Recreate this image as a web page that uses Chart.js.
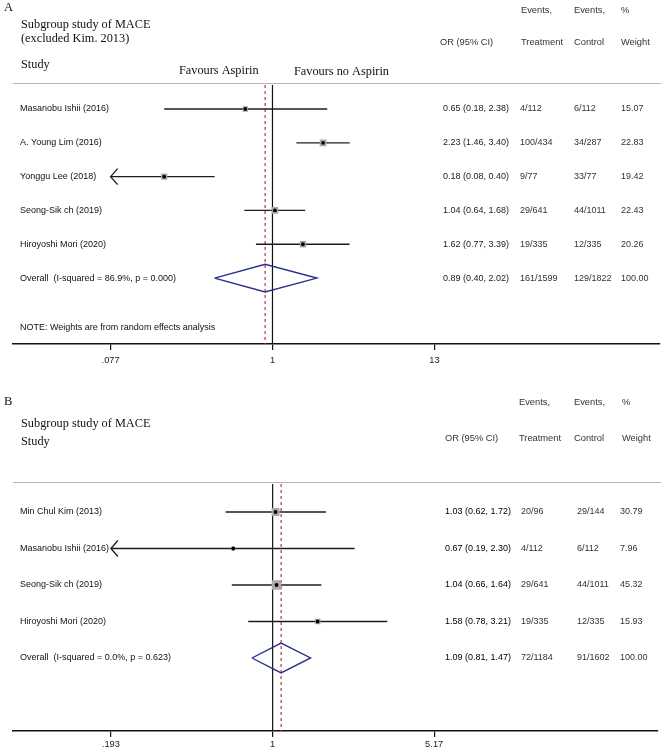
<!DOCTYPE html>
<html>
<head>
<meta charset="utf-8">
<script src="https://cdn.jsdelivr.net/npm/chart.js@4.4.1/dist/chart.umd.min.js"></script>
<style>
  html, body { margin: 0; padding: 0; background: #fff; }
  #wrap { position: relative; width: 664px; height: 749px; overflow: hidden; }
  canvas { position: absolute; left: 0; }
  #chartA { top: 0; }
  #chartB { top: 385px; }
</style>
</head>
<body>
<div id="wrap">
  <canvas id="chartA" width="664" height="374"></canvas>
  <canvas id="chartB" width="664" height="364"></canvas>
</div>
<script>
// panel A: excluded Kim 2013
const studiesA = ['Masanobu Ishii (2016)', 'A. Young Lim (2016)', 'Yonggu Lee (2018)', 'Seong-Sik ch (2019)', 'Hiroyoshi Mori (2020)'];
const orA = [0.65, 2.23, 0.18, 1.04, 1.62];
const lowA = [0.18, 1.46, 0.08, 0.64, 0.77];
const highA = [2.38, 3.40, 0.40, 1.68, 3.39];
const treatA = ['4/112', '100/434', '9/77', '29/641', '19/335'];
const controlA = ['6/112', '34/287', '33/77', '44/1011', '12/335'];
const weightA = [15.07, 22.83, 19.42, 22.43, 20.26];
const arrowA = [false, false, true, false, false];
const overallLabelA = 'Overall  (I-squared = 86.9%, p = 0.000)';
const overallA = [0.89, 0.40, 2.02];
const overallEventsA = ['161/1599', '129/1822', '100.00'];
const ticksA = [0.077, 1, 13];
const tickLabelsA = ['.077', '1', '13'];

// panel B: all studies
const studiesB = ['Min Chul Kim (2013)', 'Masanobu Ishii (2016)', 'Seong-Sik ch (2019)', 'Hiroyoshi Mori (2020)'];
const orB = [1.03, 0.67, 1.04, 1.58];
const lowB = [0.62, 0.19, 0.66, 0.78];
const highB = [1.72, 2.30, 1.64, 3.21];
const treatB = ['20/96', '4/112', '29/641', '19/335'];
const controlB = ['29/144', '6/112', '44/1011', '12/335'];
const weightB = [30.79, 7.96, 45.32, 15.93];
const arrowB = [false, true, false, false];
const overallLabelB = 'Overall  (I-squared = 0.0%, p = 0.623)';
const overallB = [1.09, 0.81, 1.47];
const overallEventsB = ['72/1184', '91/1602', '100.00'];
const ticksB = [0.193, 1, 5.17];
const tickLabelsB = ['.193', '1', '5.17'];

const SANS = '"Liberation Sans", Arial, sans-serif';
const SERIF = '"Liberation Serif", "Times New Roman", serif';

const fmtOr = (e, l, h) => `${e.toFixed(2)} (${l.toFixed(2)}, ${h.toFixed(2)})`;

const buildDatasets = (p) => {
  const n = p.studies.length;
  const [est, lo, hi] = p.overall;
  const pts = p.or.map((v, i) => ({ x: v, y: i }));
  const ds = [];
  ds.push({ data: pts, pointStyle: 'circle', pointRadius: 1.9, backgroundColor: '#000', borderWidth: 0 });
  ds.push({
    data: pts, pointStyle: 'rect', pointRadius: p.weight.map(w => 1.0 * Math.sqrt(w)),
    backgroundColor: '#a9a9a9', borderWidth: 0
  });
  p.studies.forEach((s, i) => {
    ds.push({
      data: [{ x: p.arrow[i] ? p.ticks[0] : p.low[i], y: i }, { x: p.high[i], y: i }],
      showLine: true, borderColor: '#1c1c1c', borderWidth: 1.3, pointRadius: 0
    });
  });
  ds.push({
    data: [{ x: lo, y: n }, { x: est, y: n - 0.41 }, { x: hi, y: n }, { x: est, y: n + 0.41 }, { x: lo, y: n }],
    showLine: true, borderColor: '#26318c', borderWidth: 1.4, pointRadius: 0, tension: 0
  });
  ds.push({
    data: [{ x: est, y: p.yMin }, { x: est, y: p.yMax }],
    showLine: true, borderColor: '#c4303e', borderWidth: 1.2, borderDash: [3, 3], pointRadius: 0
  });
  ds.push({
    data: [{ x: 1, y: p.yMin }, { x: 1, y: p.yMax }],
    showLine: true, borderColor: '#111', borderWidth: 1.2, pointRadius: 0
  });
  return ds;
};

const forestPlugin = (p) => ({
  id: 'forestText',
  afterDatasetsDraw(chart) {
    const { ctx, scales: { x, y } } = chart;
    ctx.save();
    ctx.strokeStyle = '#1c1c1c';
    ctx.lineWidth = 1.3;
    p.arrow.forEach((a, i) => {
      if (!a) return;
      const px = x.getPixelForValue(p.ticks[0]);
      const py = y.getPixelForValue(i);
      ctx.beginPath();
      ctx.moveTo(px + 7, py - 8);
      ctx.lineTo(px, py);
      ctx.lineTo(px + 7, py + 8);
      ctx.stroke();
    });
    ctx.restore();
  },
  afterDraw(chart) {
    const { ctx, chartArea, scales: { y } } = chart;
    ctx.save();
    ctx.textBaseline = 'middle';
    ctx.textAlign = 'left';
    p.header.forEach(([t, hx, hy, f, c]) => {
      ctx.font = f;
      ctx.fillStyle = c;
      ctx.fillText(t, hx, hy);
    });
    // separator under header
    ctx.strokeStyle = '#b5b5b5';
    ctx.lineWidth = 1;
    ctx.beginPath();
    ctx.moveTo(13, chartArea.top - 1.5);
    ctx.lineTo(661, chartArea.top - 1.5);
    ctx.stroke();

    ctx.font = `9px ${SANS}`;
    const rows = p.studies.map((s, i) => [s, fmtOr(p.or[i], p.low[i], p.high[i]), p.treat[i], p.control[i], p.weight[i].toFixed(2)]);
    rows.push([p.overallLabel, fmtOr(...p.overall), ...p.overallEvents]);
    rows.forEach((r, i) => {
      const py = y.getPixelForValue(i);
      ctx.fillStyle = '#111';
      ctx.fillText(r[0], 20, py);
      ctx.fillStyle = p.orColor;
      ctx.fillText(r[1], p.cols[0], py);
      ctx.fillStyle = '#333';
      for (let k = 2; k < 5; k++) ctx.fillText(r[k], p.cols[k - 1], py);
    });
    if (p.note) {
      ctx.fillStyle = '#111';
      ctx.fillText(p.note, 20, chartArea.bottom - 16);
    }
    ctx.restore();
  }
});

const makeChart = (id, p) => new Chart(document.getElementById(id), {
  type: 'scatter',
  data: { datasets: buildDatasets(p) },
  options: {
    responsive: false,
    animation: false,
    events: [],
    layout: { padding: { left: 13, right: 1, top: p.top, bottom: 0 } },
    plugins: { legend: { display: false }, tooltip: { enabled: false } },
    scales: {
      x: {
        type: 'logarithmic',
        min: p.xMin,
        max: p.xMax,
        bounds: 'data',
        afterBuildTicks: (scale) => { scale.ticks = p.ticks.map(v => ({ value: v })); },
        afterFit: (scale) => { scale.height = p.axisH; },
        ticks: {
          autoSkip: false,
          maxRotation: 0,
          padding: p.tickPad,
          color: '#222',
          font: { family: SANS, size: 9.3 },
          callback: (v, i) => p.tickLabels[i]
        },
        grid: { drawOnChartArea: false, drawTicks: true, tickLength: 6, color: '#111', lineWidth: 1.2 },
        border: { display: true, color: '#111', width: 1.5 }
      },
      y: { type: 'linear', reverse: true, min: p.yMin, max: p.yMax, display: false }
    }
  },
  plugins: [forestPlugin(p)]
});

makeChart('chartA', {
  studies: studiesA, or: orA, low: lowA, high: highA, treat: treatA, control: controlA,
  weight: weightA, arrow: arrowA, overall: overallA, overallLabel: overallLabelA,
  overallEvents: overallEventsA, ticks: ticksA, tickLabels: tickLabelsA,
  xMin: 0.0164, xMax: 458, yMin: -0.71, yMax: 6.95, top: 85, axisH: 30, tickPad: 5,
  cols: [443, 520, 574, 621], orColor: '#222',
  note: 'NOTE: Weights are from random effects analysis',
  header: [
    ['A', 4, 8, `12.5px ${SERIF}`, '#111'],
    ['Subgroup study of MACE', 21, 25, `12.3px ${SERIF}`, '#111'],
    ['(excluded Kim. 2013)', 21, 39, `12.3px ${SERIF}`, '#111'],
    ['Study', 21, 65, `12.3px ${SERIF}`, '#111'],
    ['Favours Aspirin', 179, 71, `12.3px ${SERIF}`, '#111'],
    ['Favours no Aspirin', 294, 72, `12.3px ${SERIF}`, '#111'],
    ['Events,', 521, 10, `9.3px ${SANS}`, '#333'],
    ['Events,', 574, 10, `9.3px ${SANS}`, '#333'],
    ['%', 621, 10, `9.3px ${SANS}`, '#333'],
    ['OR (95% CI)', 440, 42, `9.3px ${SANS}`, '#333'],
    ['Treatment', 521, 42, `9.3px ${SANS}`, '#333'],
    ['Control', 574, 42, `9.3px ${SANS}`, '#333'],
    ['Weight', 621, 42, `9.3px ${SANS}`, '#333']
  ]
});

makeChart('chartB', {
  studies: studiesB, or: orB, low: lowB, high: highB, treat: treatB, control: controlB,
  weight: weightB, arrow: arrowB, overall: overallB, overallLabel: overallLabelB,
  overallEvents: overallEventsB, ticks: ticksB, tickLabels: tickLabelsB,
  xMin: 0.0713, xMax: 50, yMin: -0.767, yMax: 6.0, top: 99, axisH: 18, tickPad: 2,
  cols: [445, 521, 577, 620], orColor: '#000',
  note: null,
  header: [
    ['B', 4, 17, `12.5px ${SERIF}`, '#111'],
    ['Subgroup study of MACE', 21, 39, `12.3px ${SERIF}`, '#111'],
    ['Study', 21, 57, `12.3px ${SERIF}`, '#111'],
    ['Events,', 519, 17, `9.3px ${SANS}`, '#333'],
    ['Events,', 574, 17, `9.3px ${SANS}`, '#333'],
    ['%', 622, 17, `9.3px ${SANS}`, '#333'],
    ['OR (95% CI)', 445, 53, `9.3px ${SANS}`, '#333'],
    ['Treatment', 519, 53, `9.3px ${SANS}`, '#333'],
    ['Control', 574, 53, `9.3px ${SANS}`, '#333'],
    ['Weight', 622, 53, `9.3px ${SANS}`, '#333']
  ]
});
</script>
</body>
</html>
